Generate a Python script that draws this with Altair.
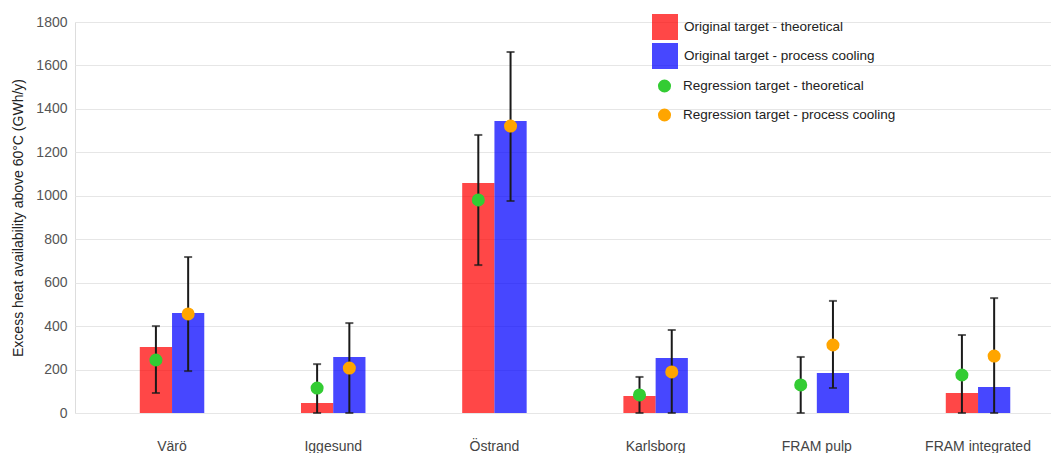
import altair as alt
import pandas as pd

sites = ["Värö", "Iggesund", "Östrand", "Karlsborg", "FRAM pulp", "FRAM integrated"]
orig_theor = [304, 46, 1059, 78, None, 92]
orig_cool = [460, 258, 1344, 253, 184, 120]
reg_theor = [244, 115, 981, 83, 129, 175]
reg_theor_low = [92, 0, 681, 0, 0, 0]
reg_theor_high = [400, 225, 1280, 166, 258, 359]
reg_cool = [456, 207, 1321, 189, 313, 262]
reg_cool_low = [193, 0, 976, 0, 115, 0]
reg_cool_high = [718, 414, 1662, 382, 516, 529]

bar_series = ["Original target - theoretical", "Original target - process cooling"]
bar_colors = ["#ff0000", "#0000ff"]
pt_series = ["Regression target - theoretical", "Regression target - process cooling"]
pt_colors = ["#33cc33", "#ffa500"]
groups = ["theoretical", "cooling"]

bar_rows = []
for s, a, b in zip(sites, orig_theor, orig_cool):
    if a is not None:
        bar_rows.append({"site": s, "grp": groups[0], "series": bar_series[0], "value": a})
    if b is not None:
        bar_rows.append({"site": s, "grp": groups[1], "series": bar_series[1], "value": b})
bars_df = pd.DataFrame(bar_rows)

pt_rows = []
for i, s in enumerate(sites):
    pt_rows.append({"site": s, "grp": groups[0], "series": pt_series[0],
                    "value": reg_theor[i], "low": reg_theor_low[i], "high": reg_theor_high[i]})
    pt_rows.append({"site": s, "grp": groups[1], "series": pt_series[1],
                    "value": reg_cool[i], "low": reg_cool_low[i], "high": reg_cool_high[i]})
pts_df = pd.DataFrame(pt_rows)

FONT = "Liberation Sans"

x_enc = alt.X("site:N", sort=sites, title=None,
              scale=alt.Scale(paddingInner=0.6, paddingOuter=0.3273, align=0.614),
              axis=alt.Axis(labelAngle=0, ticks=False, domain=False, labelPadding=26,
                            labelFontSize=14, labelColor="#444444", labelFont=FONT))
xoff = alt.XOffset("grp:N", sort=groups, scale=alt.Scale(domain=groups, paddingInner=0, paddingOuter=0))
y_scale = alt.Scale(domain=[0, 1800])
y_enc = alt.Y("value:Q", scale=y_scale,
              title="Excess heat availability above 60°C (GWh/y)",
              axis=alt.Axis(values=list(range(0, 1801, 200)), format="d", ticks=False, domain=False,
                            labelPadding=8, labelFontSize=14, labelColor="#555555", labelFont=FONT,
                            titleFont=FONT, titleFontSize=14, titleFontWeight="normal",
                            titleColor="#222222", titlePadding=10,
                            gridColor="#e6e6e6", gridWidth=1))

bar_legend = alt.Legend(title=None, orient="none", legendX=577, legendY=-8,
                        labelFont=FONT, labelFontSize=13.5, labelColor="#222222", labelLimit=0,
                        rowPadding=3, labelOffset=6, symbolType="square", symbolSize=676,
                        symbolStrokeWidth=0, symbolOpacity=0.72)
pt_legend = alt.Legend(title=None, orient="none", legendX=582.5, legendY=57,
                       labelFont=FONT, labelFontSize=13.5, labelColor="#222222", labelLimit=0,
                       rowPadding=15, labelOffset=11.5, symbolType="circle", symbolSize=170,
                       symbolStrokeWidth=0, symbolOpacity=1)

bars = alt.Chart(bars_df).mark_bar(opacity=0.72).encode(
    x=x_enc, xOffset=xoff, y=y_enc,
    color=alt.Color("series:N", sort=bar_series,
                    scale=alt.Scale(domain=bar_series, range=bar_colors), legend=bar_legend),
)

rules = alt.Chart(pts_df).mark_rule(color="#1a1a1a", strokeWidth=2).encode(
    x=alt.X("site:N", sort=sites), xOffset=xoff,
    y=alt.Y("low:Q", scale=y_scale), y2="high:Q",
)
caps_low = alt.Chart(pts_df).mark_tick(color="#1a1a1a", thickness=2, size=8).encode(
    x=alt.X("site:N", sort=sites), xOffset=xoff, y=alt.Y("low:Q", scale=y_scale),
)
caps_high = alt.Chart(pts_df).mark_tick(color="#1a1a1a", thickness=2, size=8).encode(
    x=alt.X("site:N", sort=sites), xOffset=xoff, y=alt.Y("high:Q", scale=y_scale),
)
points = alt.Chart(pts_df).mark_point(filled=True, opacity=1, strokeWidth=0, size=170).encode(
    x=alt.X("site:N", sort=sites), xOffset=xoff, y=alt.Y("value:Q", scale=y_scale),
    color=alt.Color("series:N", sort=pt_series,
                    scale=alt.Scale(domain=pt_series, range=pt_colors), legend=pt_legend),
)

chart = alt.layer(bars, rules, caps_low, caps_high, points).resolve_scale(
    color="independent"
).properties(
    width=976, height=391,
    padding={"left": 3, "top": 6, "right": 0, "bottom": 0},
).configure_view(stroke=None).configure(font=FONT)

chart.save("out.html", embed_options={"renderer": "svg", "actions": False})
